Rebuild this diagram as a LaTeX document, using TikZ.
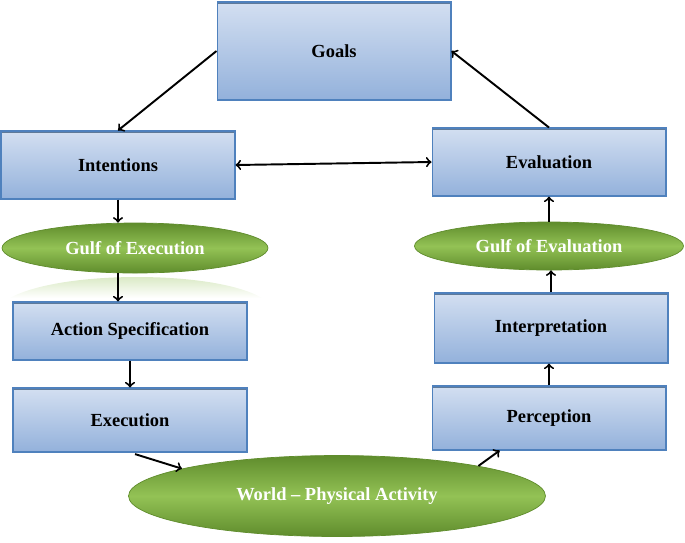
\documentclass[tikz,border=0pt]{standalone}
\usepackage{fontspec}
\setmainfont{Liberation Serif}
\usetikzlibrary{shapes.geometric,calc}
\definecolor{boxtop}{HTML}{D3DFF1}
\definecolor{boxbot}{HTML}{93B1DB}
\definecolor{boxline}{HTML}{4F81BD}
\definecolor{boxshade}{HTML}{5F7A99}
\definecolor{gulfmid}{HTML}{93C255}
\definecolor{gulfrim}{HTML}{5F8C2C}
\tikzset{
  stagebox/.style={rectangle,draw=boxline,line width=0.6pt,top color=boxtop,bottom color=boxbot,
    minimum width=4.68cm,inner sep=0pt,font=\bfseries\fontsize{10.5}{12}\selectfont,
    path picture={\draw[boxshade,line width=2pt] (path picture bounding box.north west) -- (path picture bounding box.north east);}},
  gulf/.style={ellipse,draw=gulfrim,line width=0.4pt,top color=gulfrim,bottom color=gulfrim,middle color=gulfmid,
    inner sep=0pt,text=white,font=\bfseries\fontsize{10.5}{12}\selectfont},
  flow/.style={->,line width=1.1pt,black}
}
\begin{document}
\begin{tikzpicture}[x=0.02cm,y=-0.02cm]
  \useasboundingbox (0,0) rectangle (685,542);
  % reflection under the left gulf
  \shade[top color=gulfmid!45!white,bottom color=white] (10,298) .. controls (60,270) and (215,270) .. (262,298) -- cycle;
  % left column
  \node[stagebox,minimum height=1.96cm] (goals) at (334,51) {Goals};
  \node[stagebox,minimum height=1.36cm] (intent) at (118,165) {Intentions};
  \node[gulf,minimum width=5.32cm,minimum height=1.0cm] (gulfexec) at (135,248) {Gulf of Execution};
  \node[stagebox,minimum height=1.16cm] (actspec) at (130,331) {Action Specification};
  \node[stagebox,minimum height=1.28cm] (exec) at (130,420) {Execution};
  % right column
  \node[stagebox,minimum height=1.36cm] (eval) at (549,162) {Evaluation};
  \node[gulf,minimum width=5.38cm,minimum height=0.96cm] (gulfeval) at (549,246) {Gulf of Evaluation};
  \node[stagebox,minimum height=1.4cm] (interp) at (551,328) {Interpretation};
  \node[stagebox,minimum height=1.28cm] (percep) at (549,418) {Perception};
  % the world
  \node[gulf,minimum width=8.34cm,minimum height=1.62cm] (world) at (337,496) {World -- Physical Activity};
  % connectors
  \draw[flow] (goals.west) -- (intent.north);
  \draw[flow] (eval.north) -- (goals.east);
  \draw[flow,<->] (intent.east) -- (eval.west);
  \draw[flow] (intent.south) -- (intent.south |- gulfexec.north);
  \draw[flow] (intent.south |- gulfexec.south) -- (intent.south |- actspec.north);
  \draw[flow] (actspec.south) -- (exec.north);
  \draw[flow,shorten <=3pt] (exec.south) -- (world.170);
  \draw[flow] (world.12) -- ($(percep.south west)!0.29!(percep.south east)$);
  \draw[flow] (percep.north) -- (percep.north |- interp.south);
  \draw[flow] (interp.north) -- (interp.north |- gulfeval.south);
  \draw[flow] (gulfeval.north) -- (eval.south);
\end{tikzpicture}
\end{document}
